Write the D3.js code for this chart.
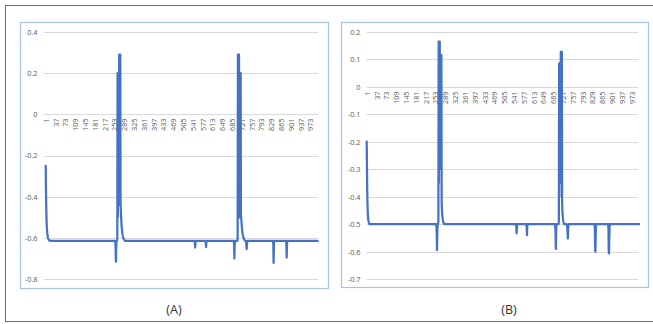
<!DOCTYPE html>
<html><head><meta charset="utf-8">
<script src="https://cdn.jsdelivr.net/npm/d3@7"></script>
<style>
html,body{margin:0;padding:0;background:#fff;}
svg{display:block;font-family:"Open Sans","Noto Sans",sans-serif;}
</style></head>
<body><svg id="c" width="653" height="324"></svg>
<script>
// ---------- DATA ----------
const N = 1000; // number of categories (1..1000)
const xTickLabels = [1,37,73,109,145,181,217,253,289,325,361,397,433,469,505,541,577,613,649,685,721,757,793,829,865,901,937,973];

const yTicksA = [0.4,0.2,0,-0.2,-0.4,-0.6,-0.8];
const yTicksB = [0.2,0.1,0,-0.1,-0.2,-0.3,-0.4,-0.5,-0.6,-0.7];

// Series A: baseline and runs [startIndex, values]
const baselineA = -0.615;
const runsA = [
  [1,   [-0.25,-0.36,-0.45,-0.51,-0.545,-0.565,-0.58,-0.59,-0.597,-0.602,-0.606,-0.609,-0.611,-0.612,-0.613,-0.614]],
  [257, [-0.625,-0.66,-0.716,-0.64,-0.62,-0.615,-0.612,-0.6,0.2,-0.5,0.2,-0.44,0.2,-0.44,0.29,-0.3,0.29,-0.4,0.29,-0.44,-0.47,-0.5,-0.525,-0.545,-0.56,-0.572,-0.582,-0.59,-0.596,-0.6,-0.604,-0.607,-0.609,-0.611,-0.613,-0.614]],
  [549, [-0.625,-0.647,-0.625]],
  [589, [-0.625,-0.645,-0.625]],
  [693, [-0.635,-0.70,-0.635,-0.618]],
  [706, [-0.6,0.29,-0.5,0.29,-0.45,0.29,-0.5,0.2,-0.49,0.2,-0.49,0.2,-0.49,-0.5,-0.52,-0.54,-0.555,-0.567,-0.577,-0.585,-0.592,-0.597,-0.601,-0.605,-0.608,-0.61,-0.612,-0.613,-0.614]],
  [737, [-0.622,-0.636,-0.655,-0.635,-0.62]],
  [837, [-0.63,-0.722,-0.64]],
  [885, [-0.63,-0.696,-0.64]]
];

// Series B
const baselineB = -0.5;
const runsB = [
  [1,   [-0.2,-0.3,-0.38,-0.43,-0.46,-0.475,-0.485,-0.49,-0.494,-0.497,-0.499]],
  [257, [-0.51,-0.54,-0.594,-0.53,-0.505,-0.5,-0.498,-0.49,0.164,-0.35,0.164,-0.29,0.164,-0.29,0.115,-0.28,0.115,-0.3,0.115,-0.42,-0.45,-0.465,-0.475,-0.482,-0.488,-0.492,-0.495,-0.497,-0.499]],
  [550, [-0.51,-0.533,-0.51]],
  [588, [-0.51,-0.54,-0.51]],
  [693, [-0.51,-0.54,-0.59,-0.53,-0.505]],
  [706, [-0.49,0.085,-0.4,0.085,-0.31,0.085,-0.3,0.127,-0.3,0.127,-0.35,0.127,-0.42,-0.45,-0.47,-0.48,-0.487,-0.492,-0.496,-0.498,-0.5]],
  [736, [-0.505,-0.515,-0.53,-0.552,-0.52,-0.505]],
  [838, [-0.52,-0.59,-0.6,-0.55,-0.51]],
  [888, [-0.52,-0.6,-0.606,-0.55,-0.51]]
];

function buildSeries(baseline, runs){
  const vals = new Array(N).fill(baseline);
  runs.forEach(([s, arr]) => arr.forEach((v,k) => { vals[s-1+k] = v; }));
  return vals.map((v,i) => ({i:i+1, v}));
}
const seriesA = buildSeries(baselineA, runsA);
const seriesB = buildSeries(baselineB, runsB);

// ---------- DRAW ----------
const svg = d3.select("#c");
const LINE = "#4472C4";

// outer frame
svg.append("rect").attr("x",5.5).attr("y",5.5).attr("width",700).attr("height",316)
  .attr("fill","none").attr("stroke","#5e6e88").attr("stroke-width",1);

function panel(cfg){
  const g = svg.append("g");
  g.append("rect").attr("x",cfg.box[0]+0.5).attr("y",cfg.box[1]+0.5)
    .attr("width",cfg.box[2]-cfg.box[0]).attr("height",cfg.box[3]-cfg.box[1])
    .attr("fill","#fff").attr("stroke","#a8c3dc").attr("stroke-width",1.2);

  const y = d3.scaleLinear().domain(cfg.ydom).range(cfg.yrange);
  const x = d3.scaleLinear().domain([1,N]).range(cfg.xrange);

  g.append("g").selectAll("line").data(cfg.yticks).join("line")
    .attr("x1",cfg.grid[0]).attr("x2",cfg.grid[1])
    .attr("y1",d=>Math.round(y(d))+0.5).attr("y2",d=>Math.round(y(d))+0.5)
    .attr("stroke","#d9d9d9").attr("stroke-width",1);

  const ya = g.append("g").attr("transform",`translate(${cfg.ylabX},0)`)
    .call(d3.axisLeft(y).tickValues(cfg.yticks).tickSize(0).tickPadding(0)
      .tickFormat(d => d===0 ? "0" : d.toFixed(1)));
  ya.select(".domain").remove();
  ya.selectAll("text").attr("fill","#595959").attr("font-size","7.3px")
    .attr("font-family",'"Open Sans","Noto Sans",sans-serif');

  const xa = g.append("g").attr("transform",`translate(0,${cfg.xlabY})`)
    .call(d3.axisBottom(x).tickValues(xTickLabels).tickSize(0).tickFormat(d3.format("d")));
  xa.select(".domain").remove();
  xa.selectAll("text").attr("fill","#595959").attr("font-size","7.3px")
    .attr("font-family",'"Open Sans","Noto Sans",sans-serif')
    .attr("transform","rotate(-90)").attr("text-anchor","end")
    .attr("x",0).attr("y",0).attr("dx",0).attr("dy","0.35em");

  g.append("path").datum(cfg.data)
    .attr("fill","none").attr("stroke",LINE).attr("stroke-width",2.25)
    .attr("stroke-linejoin","round").attr("stroke-linecap","round")
    .attr("d", d3.line().x(d=>x(d.i)).y(d=>y(d.v)));

  g.append("text").attr("x",cfg.cap[0]).attr("y",cfg.cap[1]).attr("text-anchor","middle")
    .attr("font-size","12.5px").attr("fill","#333")
    .attr("font-family",'"Open Sans","Noto Sans",sans-serif').text(cfg.caption);
}

panel({
  box:[20,22,328,288], grid:[44,318.5], ydom:[0.4,-0.8], yrange:[32,279],
  xrange:[45.7,317.7], yticks:yTicksA, ylabX:37.5, xlabY:118.5,
  data:seriesA, cap:[174,313.5], caption:"(A)"
});
panel({
  box:[341,22,648,287], grid:[366.5,638.5], ydom:[0.2,-0.7], yrange:[31.7,279.2],
  xrange:[366.7,639], yticks:yTicksB, ylabX:360.5, xlabY:91.5,
  data:seriesB, cap:[509,313.5], caption:"(B)"
});
</script></body></html>
